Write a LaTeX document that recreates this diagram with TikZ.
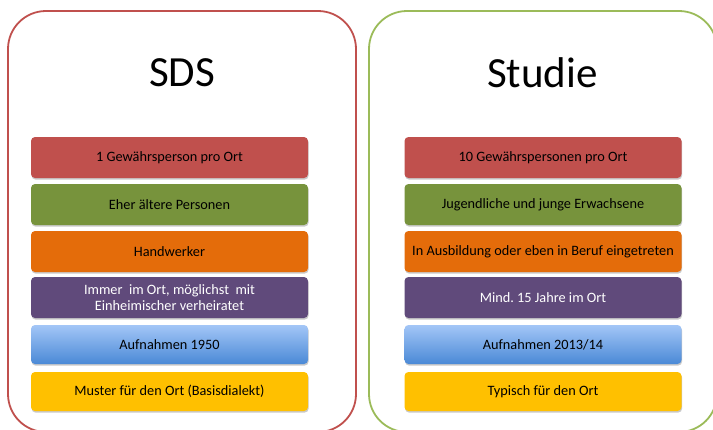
\documentclass[tikz,border=0pt]{standalone}
\usepackage{fontspec}
\setmainfont{Carlito}
\usetikzlibrary{shadows}
\definecolor{cred}{HTML}{C0504D}
\definecolor{cgreen}{HTML}{77933C}
\definecolor{corange}{HTML}{E46C0A}
\definecolor{cpurple}{HTML}{604A7B}
\definecolor{cbluetop}{HTML}{A3C6F7}
\definecolor{cbluebot}{HTML}{4A89D6}
\definecolor{cyellow}{HTML}{FFC000}
\definecolor{lgreen}{HTML}{9BBB59}
\tikzset{
  panel/.style={line width=1.8pt, rounded corners=38pt, fill=white},
  title/.style={font=\fontsize{43}{47}\selectfont, inner sep=0pt},
  bar/.style={rounded corners=4pt, minimum width=277pt, minimum height=41pt,
    inner sep=2pt, align=center, font=\fontsize{14.3}{15.5}\selectfont,
    drop shadow={shadow xshift=0.6pt, shadow yshift=-1.6pt, opacity=0.35, fill=black!60}},
  redbar/.style={bar, fill=cred},
  greenbar/.style={bar, fill=cgreen},
  orangebar/.style={bar, fill=corange},
  purplebar/.style={bar, fill=cpurple, text=white},
  bluebar/.style={bar, minimum height=39pt, top color=cbluetop, bottom color=cbluebot},
  yellowbar/.style={bar, minimum height=39pt, fill=cyellow},
}
\begin{document}
\frenchspacing
\begin{tikzpicture}[x=1pt, y=-1pt]
\useasboundingbox (0,0) rectangle (713,429);
\clip (0,0) rectangle (713,429);
\fill[white] (0,0) rectangle (713,429);
% panels
\draw[panel, draw=cred] (8,11) rectangle (356,432);
\draw[panel, draw=lgreen] (369,11) rectangle (717,432);
\node[title] (t1) at (182,73) {SDS};
\node[title] (t2) at (542.5,73) {Studie};
% left column
\node[redbar] (l1) at (169.5,157.5) {1 Gewährsperson pro Ort};
\node[greenbar] (l2) at (169.5,204.5) {Eher ältere Personen};
\node[orangebar] (l3) at (169.5,251.5) {Handwerker};
\node[purplebar] (l4) at (169.5,297.5) {Immer\ \ im Ort, möglichst\ \ mit\\Einheimischer verheiratet};
\node[bluebar] (l5) at (169.5,344.5) {Aufnahmen 1950};
\node[yellowbar] (l6) at (169.5,391.5) {Muster für den Ort (Basisdialekt)};
% right column
\node[redbar] (r1) at (543,157.5) {10 Gewährspersonen pro Ort};
\node[greenbar] (r2) at (543,204.5) {Jugendliche und junge Erwachsene};
\node[orangebar] (r3) at (543,251.5) {In Ausbildung oder eben in Beruf eingetreten};
\node[purplebar] (r4) at (543,297.5) {Mind.\ 15 Jahre im Ort};
\node[bluebar] (r5) at (543,344.5) {Aufnahmen 2013/14};
\node[yellowbar] (r6) at (543,391.5) {Typisch für den Ort};
\end{tikzpicture}
\end{document}
